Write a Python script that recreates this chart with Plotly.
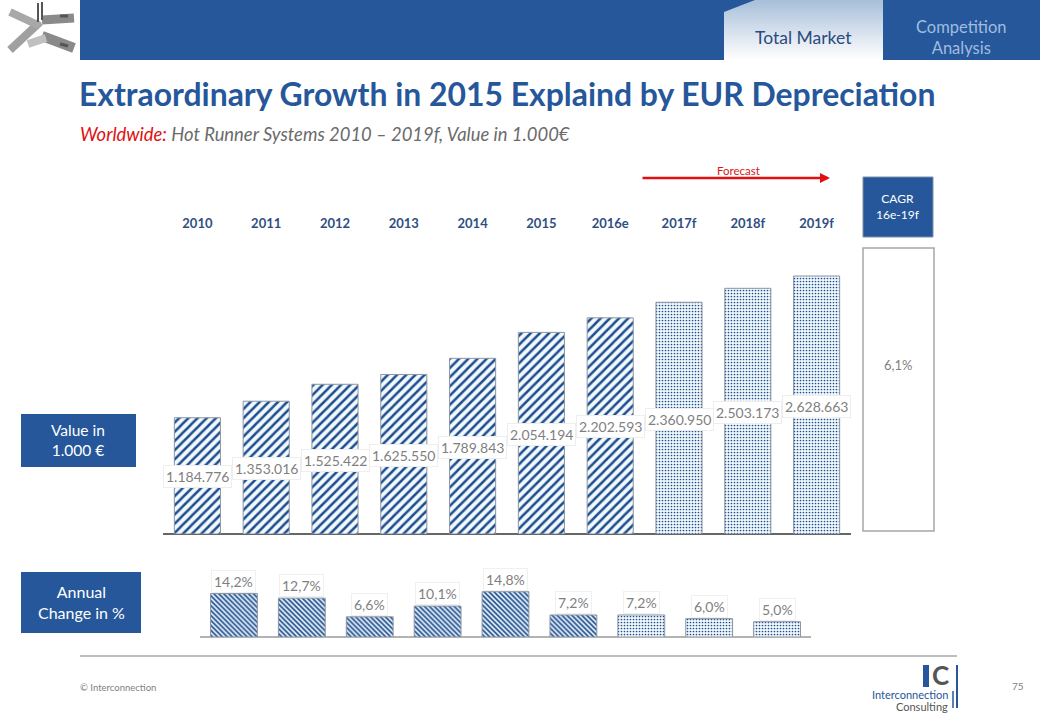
#!/usr/bin/env python3
# plot.py - Hot runner systems market slide

import plotly.graph_objects as go

years = ['2010', '2011', '2012', '2013', '2014', '2015', '2016e', '2017f', '2018f', '2019f']
values = [1184776, 1353016, 1525422, 1625550, 1789843, 2054194, 2202593, 2360950, 2503173, 2628663]
change_years = years[1:]
changes = [14.2, 12.7, 6.6, 10.1, 14.8, 7.2, 7.2, 6.0, 5.0]

BLUE = '#25579A'
GREY = '#7f7f7f'
FONT = 'Lato'
W, H = 1040, 720


def px(x):
    return x / W


def py(y):
    return 1 - y / H


def rect(x0, y0, x1, y1, fill=None, line=None, width=1):
    return dict(type='rect', xref='paper', yref='paper', x0=px(x0), x1=px(x1), y0=py(y0), y1=py(y1),
                fillcolor=fill or 'rgba(0,0,0,0)', line=dict(color=line or 'rgba(0,0,0,0)', width=width))


def seg(x0, y0, x1, y1, color, width=1):
    return dict(type='line', xref='paper', yref='paper', x0=px(x0), x1=px(x1), y0=py(y0), y1=py(y1),
                line=dict(color=color, width=width))


def text(x, y, s, size=14, color=GREY, anchor='center', **kw):
    return dict(xref='paper', yref='paper', x=px(x), y=py(y), text=s, showarrow=False, xanchor=anchor,
                yanchor='middle', font=dict(family=FONT, size=size, color=color), **kw)


fig = go.Figure()

# market value bars, forecast years dotted
fig.add_trace(go.Bar(
    x=years, y=values, xaxis='x', yaxis='y', width=0.67,
    marker=dict(
        color='white',
        line=dict(color='#8c95a3', width=1),
        pattern=dict(
            shape=['.' if y.endswith('f') else '/' for y in years],
            size=[3 if y.endswith('f') else 6.5 for y in years],
            solidity=[0.25 if y.endswith('f') else 0.38 for y in years],
            fgcolor='#1f4e8f', bgcolor='#f2f9fd', fillmode='replace'),
    ),
    hoverinfo='skip', showlegend=False,
))

# annual change bars
fig.add_trace(go.Bar(
    x=change_years, y=changes, xaxis='x2', yaxis='y2', width=0.69,
    marker=dict(
        color='white',
        line=dict(color='#8c95a3', width=1),
        pattern=dict(
            shape=['.' if y.endswith('f') else '\\' for y in change_years],
            size=[3 if y.endswith('f') else 3.5 for y in change_years],
            solidity=[0.25 if y.endswith('f') else 0.5 for y in change_years],
            fgcolor='#1f4e8f', bgcolor='#f2f9fd', fillmode='replace'),
    ),
    hoverinfo='skip', showlegend=False,
))

shapes = [
    rect(80, 0, 724, 60, BLUE),
    rect(883, 0, 1040, 60, BLUE),
    rect(21, 414, 136, 467, BLUE),
    rect(21, 572, 141, 633, BLUE),
    rect(863, 177, 933, 237, BLUE, '#7f8fa6'),
    rect(863, 248, 934, 531, 'white', '#a6a6a6', 1.5),
    seg(80, 656, 957, 656, '#7f7f7f', 1),
]

# tab gradient
for i in range(30):
    t = i / 29
    c = 'rgb(%d,%d,%d)' % (168 + t * 87, 192 + t * 63, 218 + t * 37)
    shapes.append(rect(724, i * 2, 883, i * 2 + 2, c))
shapes.append(dict(type='path', xref='paper', yref='paper', fillcolor=BLUE, line=dict(width=0),
                   path='M %f %f L %f %f L %f %f Z' % (px(724), py(0), px(755), py(0), px(724), py(12))))

# machine picture in the corner, rough sketch only
for x0, y0, x1, y1, c, w in [
    (10, 50, 40, 22, '#a0a0a0', 8), (10, 12, 40, 26, '#a8a8a8', 8),
    (42, 20, 74, 18, '#8a8a8a', 9), (42, 36, 74, 48, '#8a8a8a', 10),
    (28, 44, 46, 38, '#c0c0c0', 8), (38, 3, 38, 22, '#555555', 2), (42, 2, 42, 20, '#555555', 2),
    (60, 16, 68, 16, '#555555', 3), (60, 44, 68, 46, '#555555', 3),
]:
    shapes.append(seg(x0, y0, x1, y1, c, w))

# logo
shapes += [
    rect(923, 665, 929, 687, BLUE),
    seg(957, 665, 957, 708, BLUE, 2),
    seg(953, 691, 953, 708, BLUE, 1.5),
]

annotations = [
    text(803, 37, 'Total Market', 17.5, '#2b4a80'),
    text(961, 37, 'Competition<br>Analysis', 16.5, '#9fbde0'),
    text(77, 94, '<b>Extraordinary Growth in 2015 Explaind by EUR Depreciation</b>', 31.9, BLUE, 'left'),
    text(78, 134, '<i><span style="color:#e01010">Worldwide:</span> Hot Runner Systems 2010 – 2019f, Value in 1.000€</i>',
         18.4, '#6b6b6b', 'left'),
    text(738, 170, 'Forecast', 11.5, '#d81818'),
    text(898, 207, 'CAGR<br>16e-19f', 12, 'white'),
    text(898, 365, '6,1%', 13, GREY),
    text(78, 440, 'Value in<br>1.000 €', 15.5, 'white'),
    text(81, 602, 'Annual<br>Change in %', 16, 'white'),
    text(78, 687, '© Interconnection', 9.5, GREY, 'left'),
    text(1018, 686, '75', 10, GREY),
    text(940, 675, '<b>C</b>', 26, '#555555'),
    text(950, 694, 'Interconnection', 11, BLUE, 'right'),
    text(950, 706, 'Consulting', 11, '#555555', 'right'),
    dict(xref='paper', yref='paper', x=px(830), y=py(178), ax=-189, ay=0,
         text='', showarrow=True, arrowhead=2, arrowsize=0.8, arrowwidth=2.5, arrowcolor='#e01010'),
]

# value labels sit mid-bar on white boxes
for i, v in enumerate(values):
    annotations.append(dict(
        xref='x', yref='y', x=i, y=v / 2, yshift=-1, showarrow=False,
        text=f'{v:,}'.replace(',', '.'), font=dict(family=FONT, size=14, color=GREY),
        bgcolor='white', bordercolor='#eeeeee', borderwidth=1, borderpad=2))

for i, c in enumerate(changes):
    annotations.append(dict(
        xref='x2', yref='y2', x=i, y=c, showarrow=False, yanchor='bottom', yshift=1,
        text=f'{c:.1f}%'.replace('.', ','), font=dict(family=FONT, size=14, color=GREY),
        bgcolor='white', bordercolor='#f0f0f0', borderwidth=1, borderpad=2))

fig.update_layout(
    width=W, height=H,
    margin=dict(l=0, r=0, t=0, b=0),
    paper_bgcolor='white', plot_bgcolor='white',
    font=dict(family=FONT),
    bargap=0.33,
    shapes=shapes,
    annotations=annotations,
    xaxis=dict(type='category', domain=[px(163), px(851)], side='top', anchor='y',
               categoryorder='array', categoryarray=years,
               range=[-0.5, 9.5], showgrid=False, showline=False, ticks='',
               tickfont=dict(family=FONT, size=13, color='#2f4f82', weight='bold')),
    yaxis=dict(domain=[py(534), py(232)], range=[0, 2628663 * 302 / 258], showgrid=False, showticklabels=False,
               zeroline=True, zerolinecolor='#666666', zerolinewidth=1.5, ticks=''),
    xaxis2=dict(type='category', domain=[px(200), px(811)], anchor='y2', categoryorder='array',
                categoryarray=change_years,
                range=[-0.5, 8.5], showgrid=False, showline=False, showticklabels=False, ticks=''),
    yaxis2=dict(domain=[py(637), py(570)], range=[0, 67 / 3.06], showgrid=False, showticklabels=False,
                zeroline=True, zerolinecolor='#b3b3b3', zerolinewidth=2, ticks=''),
)

fig.write_html('out.html', config=dict(displayModeBar=False), post_script="document.body.style.margin='0';")
print('Created: out.html')
